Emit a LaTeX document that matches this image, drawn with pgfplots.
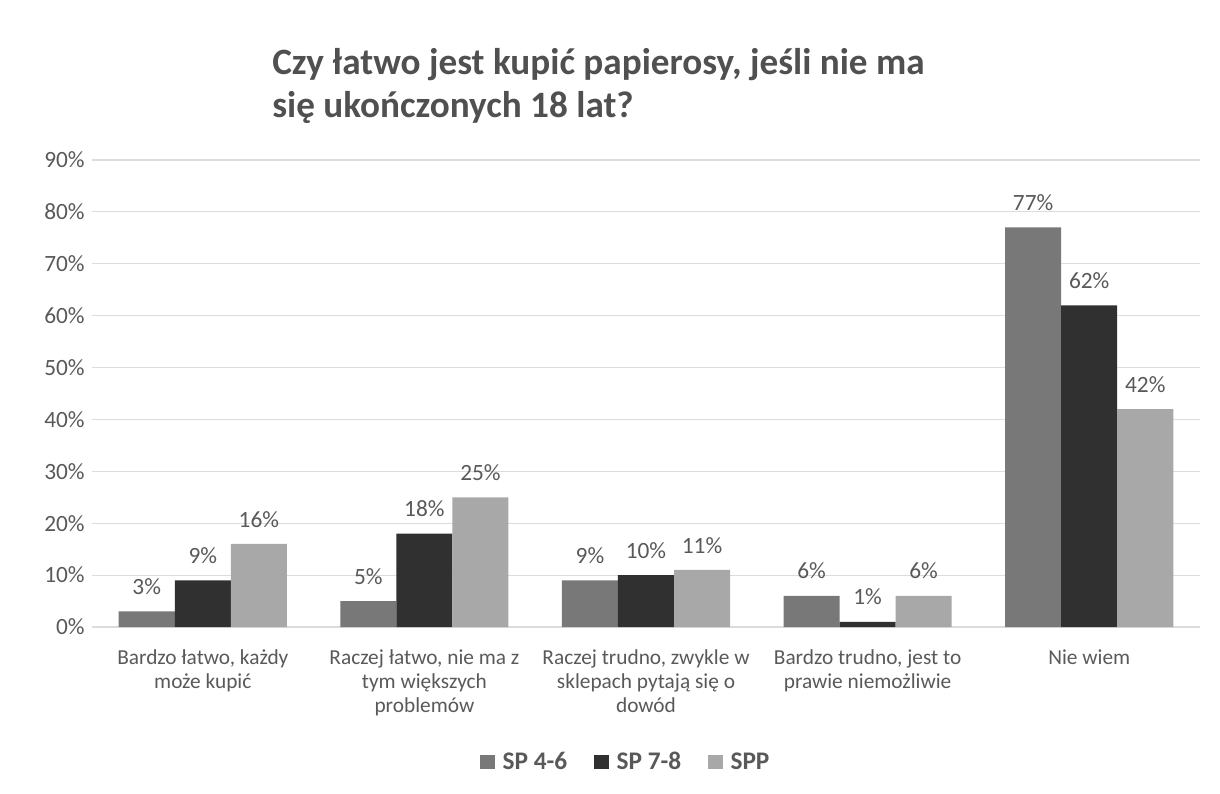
\documentclass[border=0pt]{standalone}
\usepackage{pgfplots}
\pgfplotsset{compat=1.18}
\usepackage{fontspec}
\setmainfont{Carlito}

\definecolor{txtgray}{RGB}{89,89,89}
\definecolor{titlegray}{RGB}{80,80,80}
\definecolor{gridgray}{RGB}{220,220,220}
\definecolor{spa}{RGB}{120,120,120}
\definecolor{spb}{RGB}{48,48,48}
\definecolor{spc}{RGB}{168,168,168}

\begin{document}
\begin{tikzpicture}
\useasboundingbox (-69pt,-124.5pt) rectangle (846pt,470.25pt);

\begin{axis}[
  at={(0,0)}, anchor=south west,
  scale only axis,
  width=831pt, height=350.25pt,
  ybar, bar width=0.253,
  xmin=-0.5, xmax=4.5,
  ymin=0, ymax=90,
  ytick={0,10,...,90},
  yticklabel={\pgfmathprintnumber{\tick}\%},
  xtick={0,1,2,3,4},
  xticklabels={{Bardzo łatwo, każdy\\może kupić},
               {Raczej łatwo, nie ma z\\tym większych\\problemów},
               {Raczej trudno, zwykle w\\sklepach pytają się o\\dowód},
               {Bardzo trudno, jest to\\prawie niemożliwie},
               {Nie wiem}},
  xticklabel style={align=center, anchor=north, inner sep=0pt, yshift=-17pt,
    font=\fontsize{16}{18}\selectfont, text=txtgray},
  yticklabel style={font=\fontsize{17.5}{20}\selectfont, text=txtgray, xshift=-2pt},
  /pgf/number format/assume math mode=true,
  major tick length=0pt,
  ymajorgrids, grid style={gridgray, line width=0.8pt},
  axis x line*=bottom, axis y line*=left,
  y axis line style={draw=none},
  x axis line style={draw=gridgray, line width=1pt},
  nodes near coords={\pgfmathprintnumber{\pgfplotspointmeta}\%},
  nodes near coords style={font=\fontsize{17.5}{20}\selectfont, text=txtgray, yshift=9pt},
  legend columns=3,
  legend style={draw=none, fill=none, at={(0.482,-0.289)}, anchor=center,
    font=\bfseries\fontsize{19}{22}\selectfont, text=txtgray,
    /tikz/every odd column/.append style={column sep=4pt},
    /tikz/every even column/.append style={column sep=18pt}},
  legend image code/.code={\fill[#1] (0pt,-5.5pt) rectangle (11pt,5.5pt);},
]
\addplot[fill=spa, draw=none, bar shift=-0.253] coordinates {(0,3) (1,5) (2,9) (3,6) (4,77)};
\addplot[fill=spb, draw=none, bar shift=0] coordinates {(0,9) (1,18) (2,10) (3,1) (4,62)};
\addplot[fill=spc, draw=none, bar shift=0.253] coordinates {(0,16) (1,25) (2,11) (3,6) (4,42)};
\legend{SP 4-6, SP 7-8, SPP}
\end{axis}

\node[anchor=base west, align=left, inner sep=0pt, text=titlegray,
  font=\bfseries\fontsize{27.9}{32.25}\selectfont] at (135pt,381.75pt)
  {Czy łatwo jest kupić papierosy, jeśli nie ma\\się ukończonych 18 lat?};
\end{tikzpicture}
\end{document}
